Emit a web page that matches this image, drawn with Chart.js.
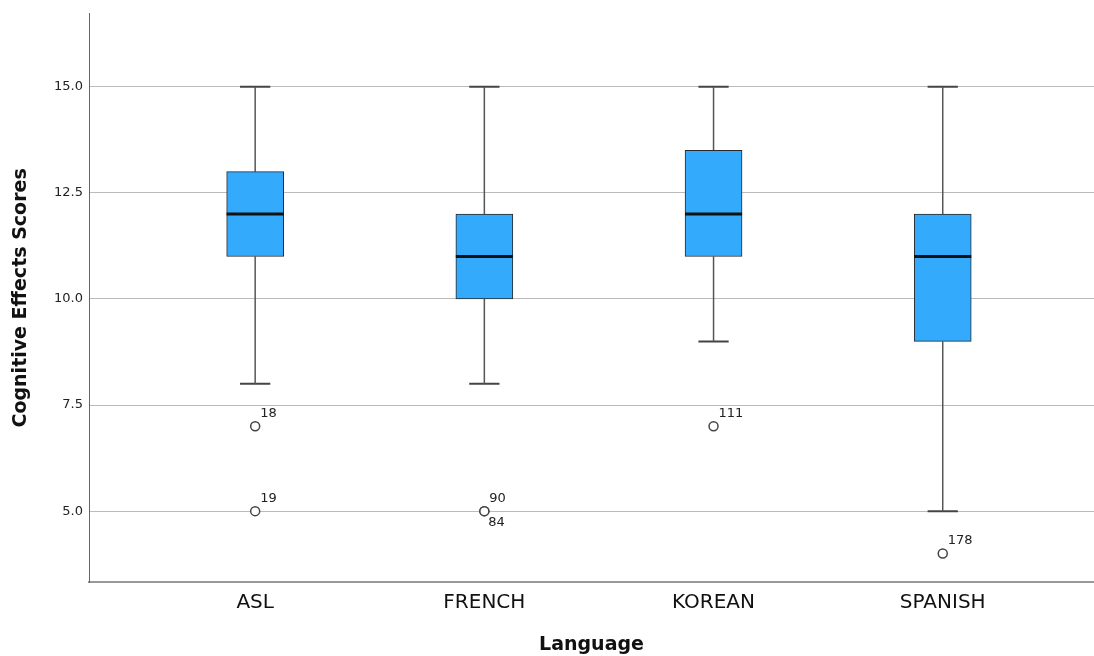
<!DOCTYPE html>
<html>
<head>
<meta charset="utf-8">
<script src="https://cdn.jsdelivr.net/npm/chart.js@4.4.0/dist/chart.umd.min.js"></script>
<style>
  body { margin: 0; background: #fff; }
  canvas { display: block; }
</style>
</head>
<body>
<canvas id="boxChart" width="1094" height="656"></canvas>
<script>
const languages = ["ASL", "FRENCH", "KOREAN", "SPANISH"];
const whiskerLow = [8, 8, 9, 5];
const q1 = [11, 10, 11, 9];
const medians = [12, 11, 12, 11];
const q3 = [13, 12, 13.5, 12];
const whiskerHigh = [15, 15, 15, 15];
// outliers: category index, value, case id
const outlierCat = [0, 0, 1, 1, 2, 3];
const outlierVal = [7, 5, 5, 5, 7, 4];
const outlierIds = ["18", "19", "90", "84", "111", "178"];
const yTicks = [5, 7.5, 10, 12.5, 15];

const boxHalf = 0.1245;
const capHalf = 0.066;
const lineGray = "#555";

let datasets = [];

// whiskers (drawn first, order 3)
languages.forEach((lang, i) => {
  const x = i + 1;
  datasets.push({
    type: "scatter", showLine: true, pointRadius: 0, order: 3,
    borderColor: lineGray, borderWidth: 1.5,
    data: [{ x, y: whiskerHigh[i] }, { x, y: q3[i] }]
  });
  datasets.push({
    type: "scatter", showLine: true, pointRadius: 0, order: 3,
    borderColor: lineGray, borderWidth: 1.5,
    data: [{ x, y: q1[i] }, { x, y: whiskerLow[i] }]
  });
  [whiskerHigh[i], whiskerLow[i]].forEach(v => {
    datasets.push({
      type: "scatter", showLine: true, pointRadius: 0, order: 3,
      borderColor: "#444", borderWidth: 2,
      data: [{ x: x - capHalf, y: v }, { x: x + capHalf, y: v }]
    });
  });
});

// boxes
datasets.push({
  type: "bar",
  order: 2,
  data: languages.map((l, i) => ({ x: i + 1, y: [q1[i], q3[i]] })),
  backgroundColor: "#33aafc",
  borderColor: "#2a2a2a",
  borderWidth: 1,
  borderSkipped: false,
  barThickness: 57
});

// medians
languages.forEach((lang, i) => {
  datasets.push({
    type: "scatter", showLine: true, pointRadius: 0, order: 1,
    borderColor: "#111", borderWidth: 3,
    data: [{ x: i + 1 - boxHalf, y: medians[i] }, { x: i + 1 + boxHalf, y: medians[i] }]
  });
});

// outliers
datasets.push({
  type: "scatter",
  order: 0,
  data: outlierVal.map((v, k) => ({ x: outlierCat[k] + 1, y: v })),
  pointStyle: "circle",
  pointRadius: 4.5,
  pointBackgroundColor: "#fff",
  pointBorderColor: "#444",
  pointBorderWidth: 1.5,
  isOutliers: true
});

const outlierLabels = {
  id: "outlierLabels",
  afterDatasetsDraw(chart) {
    const ctx = chart.ctx;
    const idx = chart.data.datasets.findIndex(d => d.isOutliers);
    const meta = chart.getDatasetMeta(idx);
    const seen = {};
    ctx.save();
    ctx.font = "13px 'DejaVu Sans'";
    ctx.fillStyle = "#222";
    ctx.textAlign = "left";
    meta.data.forEach((pt, k) => {
      const key = outlierCat[k] + ":" + outlierVal[k];
      if (seen[key]) {
        ctx.textBaseline = "top";
        ctx.fillText(outlierIds[k], pt.x + 4, pt.y + 5);
      } else {
        ctx.textBaseline = "bottom";
        ctx.fillText(outlierIds[k], pt.x + 5, pt.y - 6);
      }
      seen[key] = true;
    });
    ctx.restore();
  }
};

new Chart(document.getElementById("boxChart"), {
  type: "bar",
  data: { datasets },
  options: {
    responsive: false,
    animation: false,
    layout: { autoPadding: false, padding: { top: 12, left: 0, right: 0, bottom: 0 } },
    plugins: { legend: { display: false }, tooltip: { enabled: false } },
    scales: {
      x: {
        type: "linear",
        offset: false,
        min: 0.275,
        max: 4.66,
        afterBuildTicks: s => { s.ticks = languages.map((l, i) => ({ value: i + 1 })); },
        afterFit: s => { s.height = 74; s.paddingLeft = 0; s.paddingRight = 0; },
        ticks: {
          callback: v => languages[v - 1],
          font: { family: "'DejaVu Sans'", size: 20 },
          color: "#111",
          padding: 9,
          maxRotation: 0
        },
        grid: { display: false, drawTicks: false },
        border: { display: true, color: "#999", width: 2 },
        title: {
          display: true,
          text: "Language",
          font: { family: "'DejaVu Sans'", size: 19, weight: "bold" },
          color: "#111",
          padding: { top: 1, bottom: 0 }
        }
      },
      y: {
        min: 3.33,
        max: 16.72,
        afterBuildTicks: s => { s.ticks = yTicks.map(v => ({ value: v })); },
        afterFit: s => { s.width = 89; },
        ticks: {
          callback: v => v.toFixed(1),
          font: { family: "'DejaVu Sans'", size: 13 },
          color: "#222",
          padding: 6
        },
        grid: { color: "#bbb", lineWidth: 1, drawTicks: false },
        border: { display: true, color: "#666", width: 1 },
        title: {
          display: true,
          text: "Cognitive Effects Scores",
          font: { family: "'DejaVu Sans'", size: 19, weight: "bold" },
          color: "#111",
          padding: { top: 10, bottom: 0 }
        }
      }
    }
  },
  plugins: [outlierLabels]
});
</script>
</body>
</html>
